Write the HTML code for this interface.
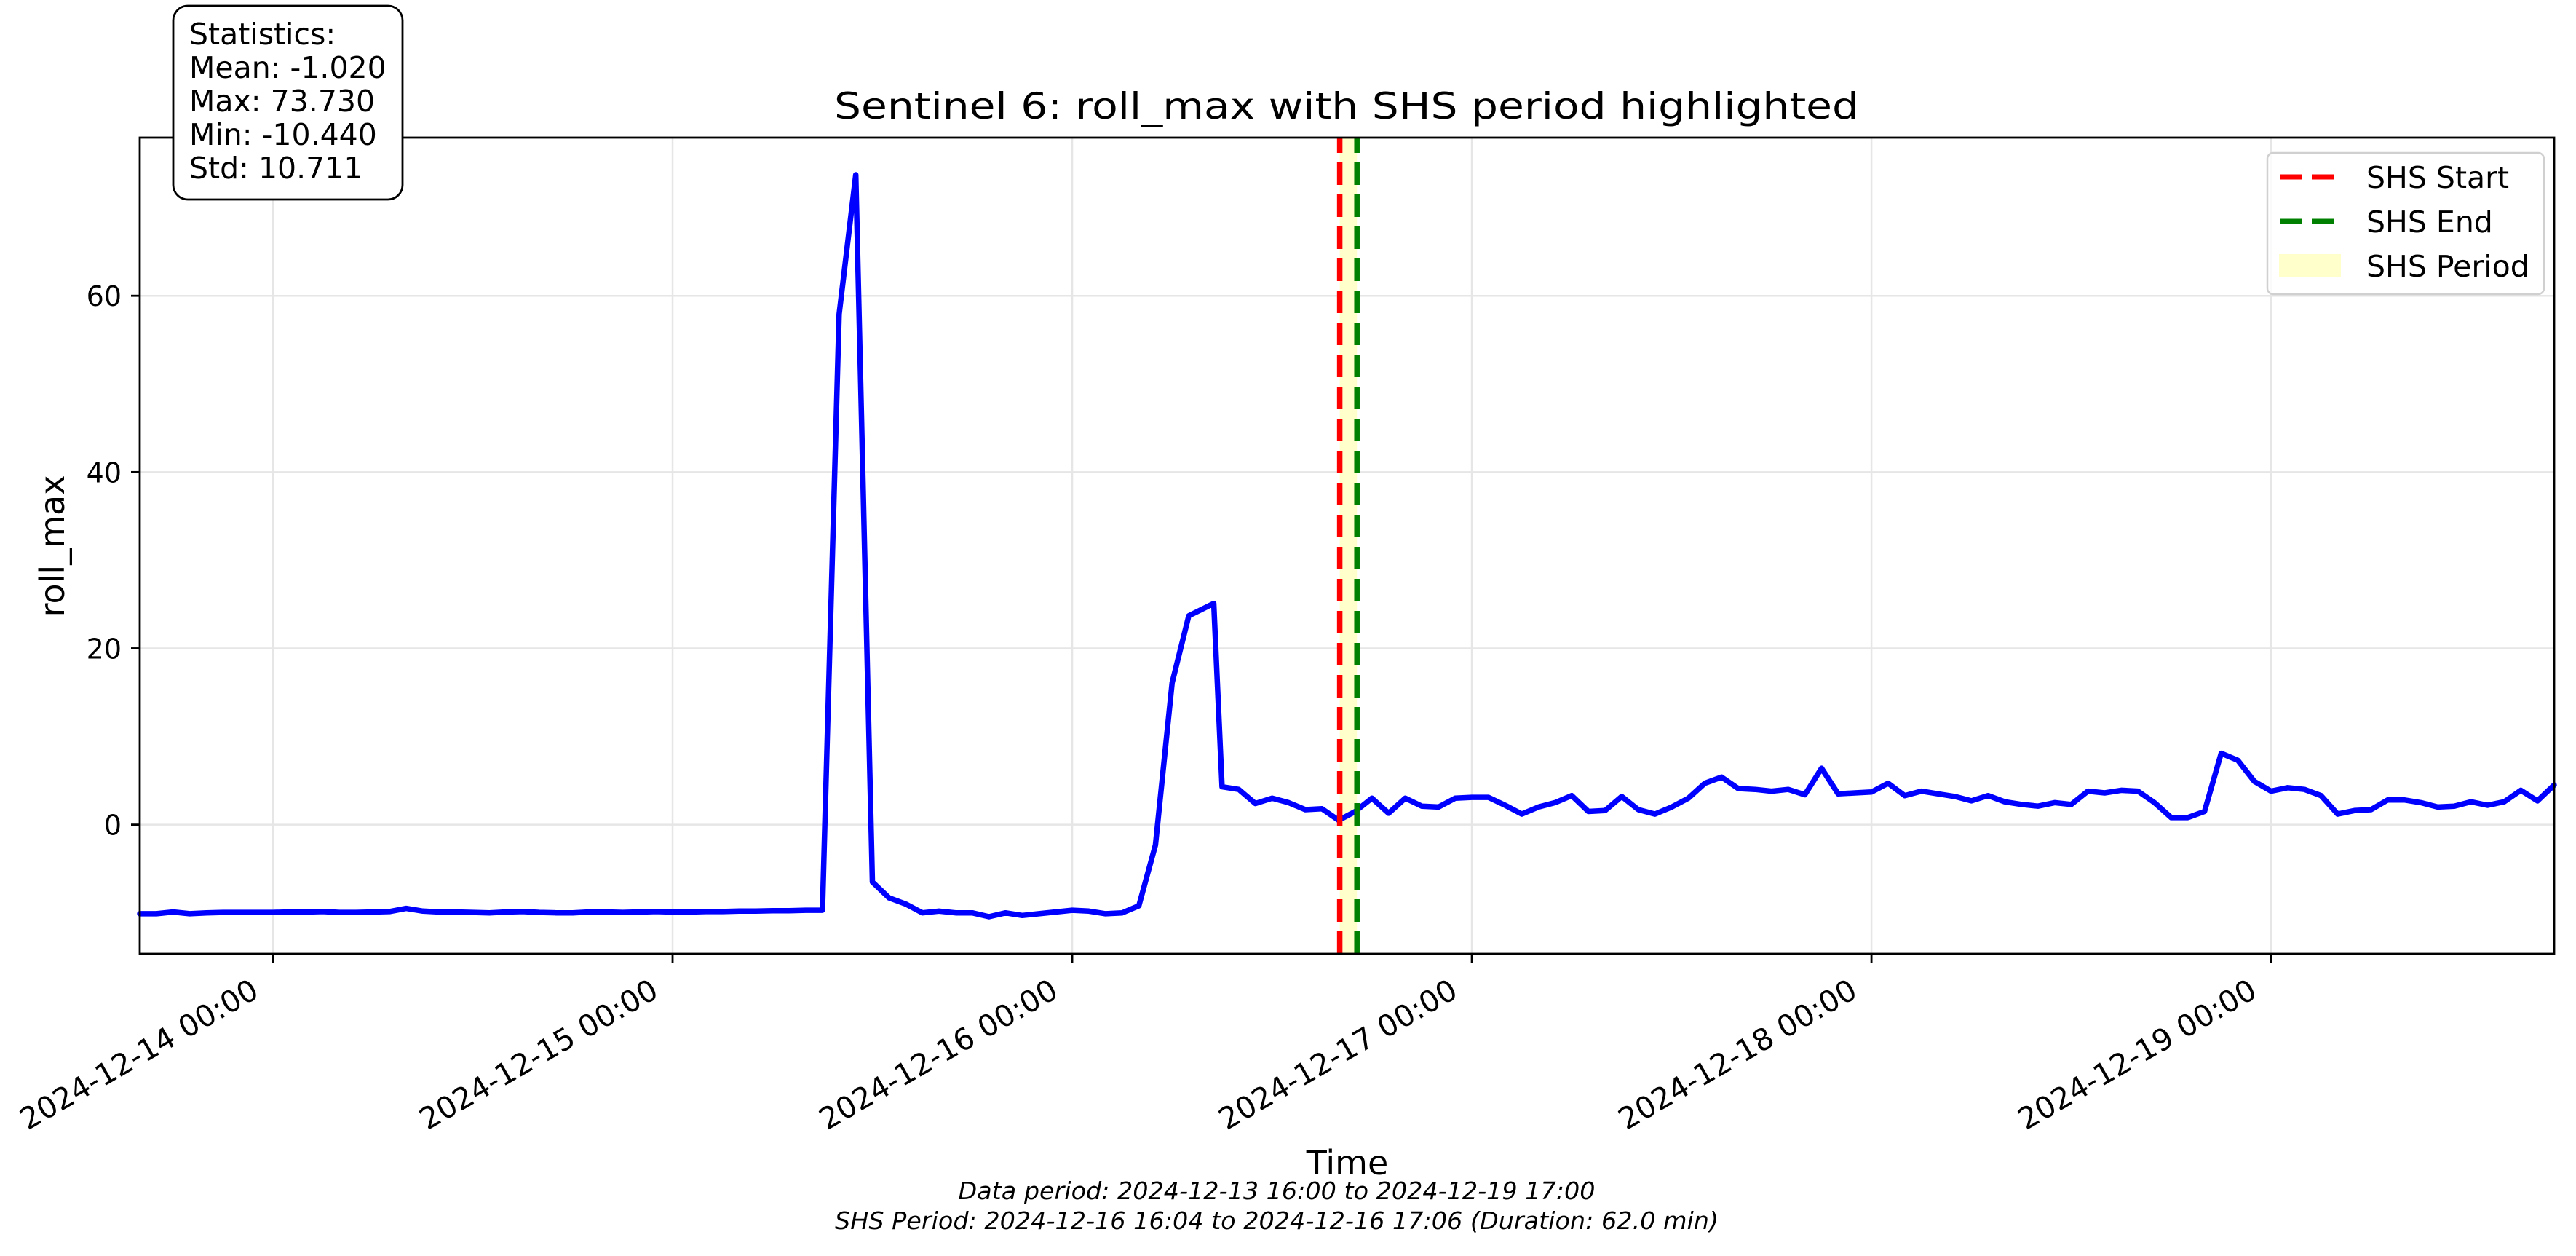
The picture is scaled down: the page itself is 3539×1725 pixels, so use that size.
<!DOCTYPE html>
<html><head><meta charset="utf-8"><style>
html,body{margin:0;padding:0;background:#fff;}
svg{display:block;font-family:"DejaVu Sans","Liberation Sans",sans-serif;}
</style></head><body>
<svg id="chart" width="3539" height="1725" viewBox="0 0 3539 1725" xmlns="http://www.w3.org/2000/svg">
<rect width="3539" height="1725" fill="#fff"/>
<g id="grid"></g>
<rect id="shs-fill" fill="#ffffcc"/>
<g id="series"></g>
<g id="vlines"></g>
<rect x="192" y="189" width="3317" height="1121" fill="none" stroke="#000" stroke-width="2.8"/>
<g id="xticks"></g>
<g id="yticks"></g>
<text x="1850" y="163" font-size="50" text-anchor="middle" textLength="1408" lengthAdjust="spacingAndGlyphs">Sentinel 6: roll_max with SHS period highlighted</text>
<text x="1851" y="1613" font-size="46" text-anchor="middle">Time</text>
<text x="0" y="0" font-size="46" text-anchor="middle" transform="translate(88,750) rotate(-90)">roll_max</text>
<text x="1754" y="1647" font-size="33" font-style="italic" text-anchor="middle" textLength="875" lengthAdjust="spacingAndGlyphs">Data period: 2024-12-13 16:00 to 2024-12-19 17:00</text>
<text x="1754" y="1688" font-size="33" font-style="italic" text-anchor="middle" textLength="1214" lengthAdjust="spacingAndGlyphs">SHS Period: 2024-12-16 16:04 to 2024-12-16 17:06 (Duration: 62.0 min)</text>
<g>
<rect x="238" y="8" width="315" height="266" rx="20" ry="20" fill="#fff" stroke="#000" stroke-width="2.8"/>
<text x="260" y="61" font-size="41">Statistics:</text>
<text x="260" y="107" font-size="41">Mean: -1.020</text>
<text x="260" y="153" font-size="41">Max: 73.730</text>
<text x="260" y="199" font-size="41">Min: -10.440</text>
<text x="260" y="245" font-size="41">Std: 10.711</text>
</g>
<g>
<rect x="3115" y="210" width="380" height="194" rx="8" fill="#fff" fill-opacity="0.8" stroke="#d0d0d0" stroke-width="2.5"/>
<line x1="3132" y1="243" x2="3207" y2="243" stroke="#ff0000" stroke-width="7" stroke-dasharray="31 13"/>
<text x="3251" y="258" font-size="41">SHS Start</text>
<line x1="3132" y1="304" x2="3207" y2="304" stroke="#008000" stroke-width="7" stroke-dasharray="31 13"/>
<text x="3251" y="319" font-size="41">SHS End</text>
<rect x="3131" y="349" width="85" height="31" fill="#ffffcc"/>
<text x="3251" y="380" font-size="41">SHS Period</text>
</g>
</svg>
<script>
// hours since 2024-12-13 16:00
const times = [0,1,2,3,4,5,6,7,8,9,10,11,12,13,14,15,16,17,18,19,20,21,22,23,24,25,26,27,28,29,30,31,32,33,34,35,36,37,38,39,40,
41,42,43,44,45,46,47,48,49,50,51,52,53,54,55,56,57,58,59,60,61,62,63,64.5,65,66,67,68,69,70,71,72,73,74,75,76,77,78,79,
80,81,82,83,84,85,86,87,88,89,90,91,92,93,94,95,96,97,98,99,100,101,102,103,104,105,
106,107,108,109,110,111,112,113,114,115,116,117,118,119,120,121,122,123,124,125,126,127,128,129,130,131,132,133,134,135,136,137,138,139,140,141,142,143,144,145];
const rollMax = [-10.1,-10.1,-9.9,-10.1,-10.0,-9.95,-9.95,-9.95,-9.95,-9.9,-9.9,-9.85,-9.95,-9.95,-9.9,-9.85,-9.5,-9.8,-9.9,-9.9,-9.95,-10.0,-9.9,-9.85,-9.95,-10.0,-10.0,-9.9,-9.9,-9.95,-9.9,-9.85,-9.9,-9.9,-9.85,-9.85,-9.8,-9.8,-9.75,-9.75,-9.7,
-9.7,57.9,73.73,-6.5,-8.3,-9.0,-10.0,-9.8,-10.0,-10.0,-10.44,-10.0,-10.3,-10.1,-9.9,-9.7,-9.8,-10.1,-10.0,-9.2,-2.3,16.1,23.7,25.1,4.3,4.0,2.4,3.0,2.5,1.7,1.8,0.5,1.5,3.0,1.3,3.0,2.1,2.0,3.0,
3.1,3.1,2.2,1.2,2.0,2.5,3.3,1.5,1.6,3.2,1.7,1.2,2.0,3.0,4.7,5.4,4.1,4.0,3.8,4.0,3.4,6.4,3.5,3.6,3.7,4.7,
3.3,3.8,3.5,3.2,2.7,3.3,2.6,2.3,2.1,2.5,2.3,3.8,3.6,3.9,3.8,2.5,0.8,0.8,1.5,8.1,7.3,4.9,3.8,4.2,4.0,3.3,1.2,1.6,1.7,2.8,2.8,2.5,2.0,2.1,2.6,2.2,2.6,3.9,2.7,4.5];
const xTickHours = [8,32,56,80,104,128];
const xTickLabels = ["2024-12-14 00:00","2024-12-15 00:00","2024-12-16 00:00","2024-12-17 00:00","2024-12-18 00:00","2024-12-19 00:00"];
const yTickValues = [0,20,40,60];
const yTickLabels = ["0","20","40","60"];
const shsStart = 72.067;
const shsEnd = 73.1;

const X0=192, X1=3509, Y0=189, Y1=1310, HMAX=145, VMIN=-14.65, VMAX=77.94;
const NS="http://www.w3.org/2000/svg";
function xs(h){return X0+(h/HMAX)*(X1-X0);}
function ys(v){return Y1-(v-VMIN)/(VMAX-VMIN)*(Y1-Y0);}
function mk(tag,attrs,parent){const e=document.createElementNS(NS,tag);for(const k in attrs)e.setAttribute(k,attrs[k]);parent.appendChild(e);return e;}

const grid=document.getElementById('grid');
const xt=document.getElementById('xticks');
const yt=document.getElementById('yticks');
xTickHours.forEach((h,i)=>{
  const x=xs(h);
  const g=mk('line',{x1:x,y1:Y0,x2:x,y2:Y1,stroke:'#e6e6e6','stroke-width':2.5},grid);
  
  
  const t=mk('line',{x1:x,y1:Y1,x2:x,y2:Y1+12,stroke:'#000','stroke-width':2.8},xt);
  
  
  const ex=x-17, ey=1368;
  const lb=mk('text',{x:ex,y:ey,'font-size':41,'text-anchor':'end',transform:'rotate(-30 '+ex+' '+ey+')'},xt);
  lb.textContent=xTickLabels[i];
  
  
});
yTickValues.forEach((v,i)=>{
  const y=ys(v);
  const g=mk('line',{x1:X0,y1:y,x2:X1,y2:y,stroke:'#e6e6e6','stroke-width':2.5},grid);
  
  
  const t=mk('line',{x1:X0-12,y1:y,x2:X0,y2:y,stroke:'#000','stroke-width':2.8},yt);
  
  
  const lb=mk('text',{x:X0-25,y:y+14,'font-size':38,'text-anchor':'end'},yt);
  lb.textContent=yTickLabels[i];
  
  
});

const fill=document.getElementById('shs-fill');
fill.setAttribute('x',xs(shsStart));fill.setAttribute('y',Y0);
fill.setAttribute('width',xs(shsEnd)-xs(shsStart));fill.setAttribute('height',Y1-Y0);

const pts=times.map((h,i)=>xs(h).toFixed(1)+','+ys(rollMax[i]).toFixed(1)).join(' ');
const line=mk('polyline',{points:pts,fill:'none',stroke:'#0000ff','stroke-width':7.5,'stroke-linejoin':'round','stroke-linecap':'round'},document.getElementById('series'));



const vl=document.getElementById('vlines');
const r=mk('line',{x1:xs(shsStart),y1:Y1,x2:xs(shsStart),y2:Y0,stroke:'#ff0000','stroke-width':7.5,'stroke-dasharray':'31 13'},vl);


const gl=mk('line',{x1:xs(shsEnd),y1:Y1,x2:xs(shsEnd),y2:Y0,stroke:'#008000','stroke-width':7.5,'stroke-dasharray':'31 13'},vl);


</script>
</body></html>
